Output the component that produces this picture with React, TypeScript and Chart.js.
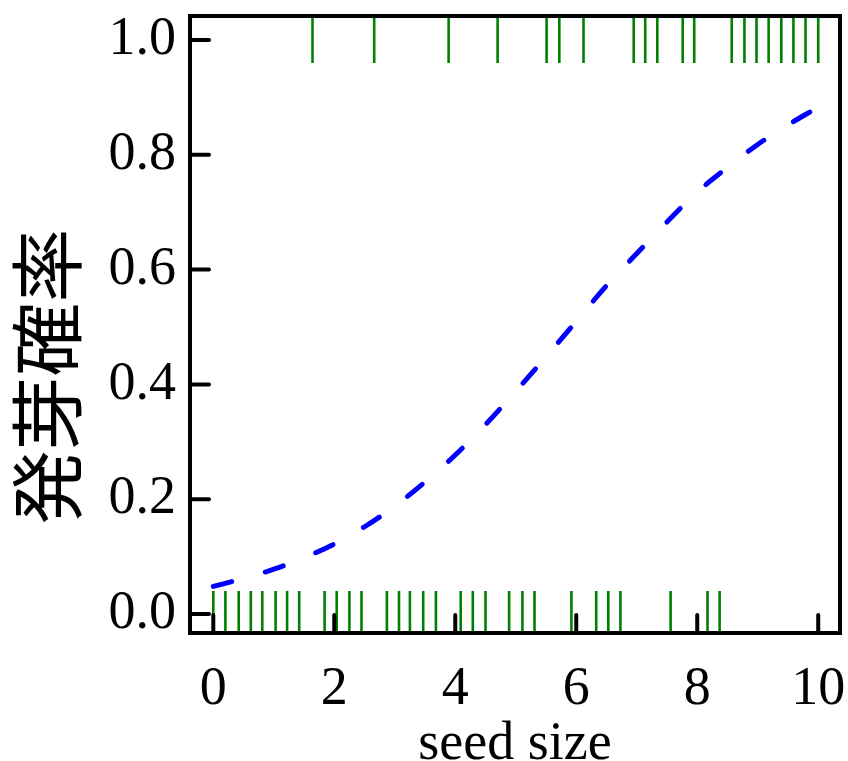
import React, { useEffect, useRef } from "react";
import { Chart, registerables } from "chart.js";

Chart.register(...registerables);

// Rug: observed seed sizes of germinated (1) and non-germinated (0) seeds
const germinatedX = [1.64, 2.66, 3.89, 4.70, 5.51, 5.72, 6.12, 6.95, 7.14, 7.34, 7.76, 7.95, 8.57, 8.78, 8.98, 9.18, 9.39, 9.59, 9.79, 10.0];
const notGerminatedX = [0.0, 0.2, 0.42, 0.62, 0.81, 1.03, 1.22, 1.42, 1.84, 2.04, 2.25, 2.45, 2.87, 3.07, 3.25, 3.47, 3.68, 4.09, 4.29, 4.5, 4.89, 5.11, 5.31, 5.92, 6.33, 6.53, 6.73, 7.56, 8.17, 8.37];

// Fitted germination probability curve
const curveX = [0, 0.5, 1, 1.5, 2, 2.5, 3, 3.5, 4, 4.5, 5, 5.5, 6, 6.5, 7, 7.5, 8, 8.5, 9, 9.5, 10];
const curveY = [0.048, 0.062, 0.078, 0.098, 0.122, 0.152, 0.188, 0.23, 0.277, 0.33, 0.388, 0.448, 0.51, 0.572, 0.628, 0.683, 0.735, 0.778, 0.818, 0.852, 0.883];

const xTickValues = [0, 2, 4, 6, 8, 10];
const yTickValues = [0, 0.2, 0.4, 0.6, 0.8, 1.0];

const xTitle = "seed size";
const yTitle = "発芽確率";

const SERIF = "'Liberation Serif', 'Times New Roman', serif";

const framePlugin = {
  id: "frame",
  afterDatasetsDraw(chart: any) {
    const { ctx, chartArea } = chart;
    const { left, right, top, bottom } = chartArea;
    const xs = chart.scales.x;
    const ys = chart.scales.y;
    ctx.save();
    ctx.strokeStyle = "#000";
    ctx.lineWidth = 4;
    ctx.lineCap = "round";
    // inward ticks
    for (const v of yTickValues) {
      const py = ys.getPixelForValue(v);
      ctx.beginPath();
      ctx.moveTo(left, py);
      ctx.lineTo(left + 19, py);
      ctx.stroke();
    }
    for (const v of xTickValues) {
      const px = xs.getPixelForValue(v);
      ctx.beginPath();
      ctx.moveTo(px, bottom);
      ctx.lineTo(px, bottom - 18);
      ctx.stroke();
    }
    ctx.lineCap = "butt";
    ctx.strokeRect(left, top, right - left, bottom - top);
    // y title
    ctx.fillStyle = "#000";
    ctx.font = "74px 'Noto Sans CJK JP', sans-serif";
    ctx.textAlign = "center";
    ctx.textBaseline = "middle";
    ctx.translate(47, chart.height / 2 - 4);
    ctx.rotate(-Math.PI / 2);
    ctx.fillText(yTitle, 0, 0);
    ctx.restore();
  },
};

export default function App() {
  const ref = useRef<HTMLCanvasElement | null>(null);
  useEffect(() => {
    document.body.style.margin = "0";
    const canvas = ref.current!;
    const chart = new Chart(canvas, {
      type: "scatter",
      data: {
        datasets: [
          {
            type: "line",
            data: curveX.map((x, i) => ({ x, y: curveY[i] })),
            borderColor: "#0000ff",
            borderWidth: 5,
            borderDash: [19, 35],
            borderCapStyle: "round",
            pointRadius: 0,
            cubicInterpolationMode: "monotone",
            fill: false,
          } as any,
          {
            data: germinatedX.map((x) => ({ x, y: 1 })),
            pointStyle: "line",
            rotation: 90,
            pointRadius: 23,
            borderColor: "#008000",
            backgroundColor: "#008000",
            borderWidth: 2.6,
          } as any,
          {
            data: notGerminatedX.map((x) => ({ x, y: 0 })),
            pointStyle: "line",
            rotation: 90,
            pointRadius: 23,
            borderColor: "#008000",
            backgroundColor: "#008000",
            borderWidth: 2.6,
          } as any,
        ],
      },
      options: {
        responsive: false,
        animation: false,
        layout: { autoPadding: false, padding: { left: 0, top: 16, right: 8, bottom: 0 } },
        plugins: { legend: { display: false }, tooltip: { enabled: false } },
        scales: {
          x: {
            type: "linear",
            min: -0.385,
            max: 10.36,
            grid: { display: false, drawTicks: false },
            border: { display: false },
            afterBuildTicks: (s: any) => {
              s.ticks = xTickValues.map((v) => ({ value: v }));
            },
            afterFit: (s: any) => {
              s.height = 128;
              s.paddingLeft = 0;
              s.paddingRight = 0;
            },
            ticks: {
              padding: 24,
              color: "#000",
              font: { family: SERIF, size: 54 },
              maxRotation: 0,
              callback: (v: any) => String(v),
            },
            title: {
              display: true,
              text: xTitle,
              color: "#000",
              font: { family: SERIF, size: 54, lineHeight: 1 },
              padding: { top: 0, bottom: -11 },
            },
          },
          y: {
            type: "linear",
            min: -0.0331,
            max: 1.0418,
            grid: { display: false, drawTicks: false },
            border: { display: false },
            afterBuildTicks: (s: any) => {
              s.ticks = yTickValues.map((v) => ({ value: v }));
            },
            afterFit: (s: any) => {
              s.width = 190;
              s.paddingTop = 0;
              s.paddingBottom = 0;
            },
            ticks: {
              padding: 14,
              color: "#000",
              font: { family: SERIF, size: 54 },
              callback: (v: any) => Number(v).toFixed(1),
            },
          },
        },
      },
      plugins: [framePlugin],
    });
    return () => chart.destroy();
  }, []);
  return <canvas ref={ref} width={848} height={761} style={{ display: "block" }} />;
}
